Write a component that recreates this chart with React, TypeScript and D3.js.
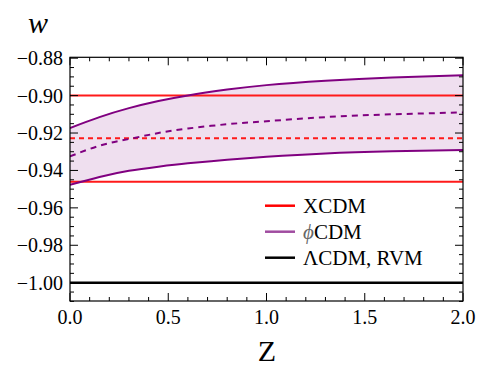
import React from "react";
import * as d3 from "d3";

// redshift samples
const zs = [0, 0.15, 0.3, 0.45, 0.6, 0.8, 1.0, 1.3, 1.64, 2.0];
const phiUpper = [-0.9173, -0.9115, -0.9067, -0.9029, -0.8999, -0.8968, -0.8944, -0.8921, -0.8903, -0.8891];
const phiMid = [-0.9325, -0.9268, -0.9232, -0.92, -0.9176, -0.9153, -0.9137, -0.9115, -0.91, -0.909];
const phiLower = [-0.9477, -0.9435, -0.9402, -0.938, -0.9362, -0.9343, -0.9327, -0.9309, -0.9298, -0.9291];

const xcdmUpper = -0.9;
const xcdmMid = -0.9228;
const xcdmLower = -0.9461;
const lcdm = -1.0;

const yTicks = [-0.88, -0.9, -0.92, -0.94, -0.96, -0.98, -1.0];
const xTicks = [0, 0.5, 1.0, 1.5, 2.0];

const legendItems = [
  { label: "XCDM", color: "#ff0000" },
  { label: "CDM", color: "#a04ca0", phi: true },
  { label: "ΛCDM, RVM", color: "#000000" },
];

const RED = "#ff1a1a";
const PURPLE = "#800080";
const FONT = "'Liberation Serif', 'Times New Roman', 'DejaVu Serif', serif";

const left = 70;
const right = 463;
const top = 57.3;
const bottom = 301;

export default function App() {
  const x = d3.scaleLinear().domain([0, 2]).range([left, right]);
  const y = d3.scaleLinear().domain([-1.0, -0.9]).range([282.7, 95.6]);

  const pts = (vals: number[]) => zs.map((z, i) => [z, vals[i]] as [number, number]);

  const line = d3
    .line<[number, number]>()
    .x((d) => x(d[0]))
    .y((d) => y(d[1]))
    .curve(d3.curveNatural);

  const band = d3
    .area<number>()
    .x((i) => x(zs[i]))
    .y0((i) => y(phiLower[i]))
    .y1((i) => y(phiUpper[i]))
    .curve(d3.curveNatural);

  const yMinor = d3.range(-1.01, -0.8774, 0.005).map((v) => +v.toFixed(3));
  const xMinor = d3.range(0, 2.0001, 0.1).map((v) => +v.toFixed(2));
  const isMajorY = (v: number) => Math.abs(Math.round(v * 50) - v * 50) < 1e-6;
  const isMajorX = (v: number) => Math.abs(Math.round(v * 2) - v * 2) < 1e-6;

  const hLine = (v: number, color: string, dash?: string, w = 2) => (
    <line
      x1={left}
      x2={right}
      y1={y(v)}
      y2={y(v)}
      stroke={color}
      strokeWidth={w}
      strokeDasharray={dash}
    />
  );

  return (
    <svg
      width={495}
      height={376}
      style={{ position: "absolute", left: 0, top: 0, background: "#fff", fontFamily: FONT }}
    >
      <defs>
        <clipPath id="plot">
          <rect x={left} y={top} width={right - left} height={bottom - top} />
        </clipPath>
      </defs>

      <g clipPath="url(#plot)">
        <path d={band(zs.map((_, i) => i)) || ""} fill="#efdfef" />
        {hLine(xcdmUpper, RED)}
        {hLine(xcdmLower, RED)}
        {hLine(xcdmMid, RED, "5,4")}
        {hLine(lcdm, "#000", undefined, 2.5)}
        <path d={line(pts(phiUpper)) || ""} fill="none" stroke={PURPLE} strokeWidth={2} />
        <path d={line(pts(phiLower)) || ""} fill="none" stroke={PURPLE} strokeWidth={2} />
        <path d={line(pts(phiMid)) || ""} fill="none" stroke={PURPLE} strokeWidth={2} strokeDasharray="6,5" />
      </g>

      {/* frame */}
      <rect x={left} y={top} width={right - left} height={bottom - top} fill="none" stroke="#000" strokeWidth={1.2} />

      {/* y ticks, left and right */}
      {yMinor.map((v) => {
        const len = isMajorY(v) ? 8 : 4;
        return (
          <g key={"y" + v}>
            <line x1={left} x2={left + len} y1={y(v)} y2={y(v)} stroke="#000" strokeWidth={1} />
            <line x1={right} x2={right - len} y1={y(v)} y2={y(v)} stroke="#000" strokeWidth={1} />
          </g>
        );
      })}
      {/* x ticks, bottom and top */}
      {xMinor.map((v) => {
        const len = isMajorX(v) ? 8 : 4;
        return (
          <g key={"x" + v}>
            <line x1={x(v)} x2={x(v)} y1={bottom} y2={bottom - len} stroke="#000" strokeWidth={1} />
            <line x1={x(v)} x2={x(v)} y1={top} y2={top + len} stroke="#000" strokeWidth={1} />
          </g>
        );
      })}

      {yTicks.map((v) => (
        <text key={"yl" + v} x={63} y={y(v) + 7} textAnchor="end" fontSize={20} fill="#000">
          {"−" + Math.abs(v).toFixed(2)}
        </text>
      ))}
      {xTicks.map((v) => (
        <text key={"xl" + v} x={x(v)} y={323.5} textAnchor="middle" fontSize={20} fill="#000">
          {v.toFixed(1)}
        </text>
      ))}

      <text x={267} y={361} textAnchor="middle" fontSize={30} fill="#000">
        Z
      </text>
      <text x={28} y={33} fontSize={30} fontStyle="italic" fill="#000">
        w
      </text>

      {/* legend */}
      {legendItems.map((d, i) => {
        const ly = 205.7 + i * 26;
        return (
          <g key={d.label}>
            <line x1={265} x2={295} y1={ly} y2={ly} stroke={d.color} strokeWidth={2.5} />
            <text x={303} y={ly + 7} fontSize={21} fill="#000">
              {d.phi ? (
                <tspan fontStyle="italic" fill="#666">
                  ϕ
                </tspan>
              ) : null}
              {d.label}
            </text>
          </g>
        );
      })}
    </svg>
  );
}
